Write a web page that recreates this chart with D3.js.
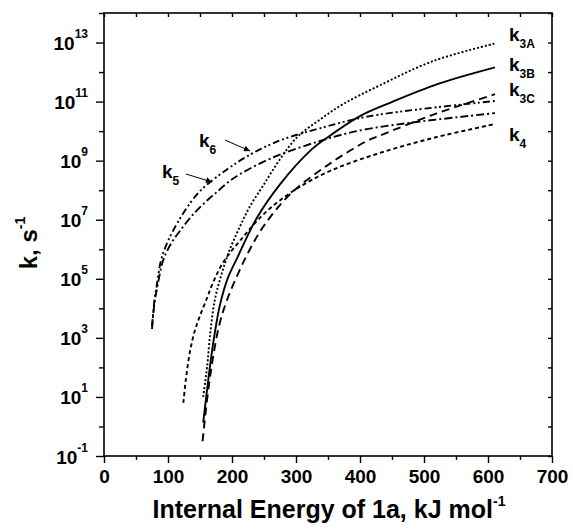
<!DOCTYPE html>
<html>
<head>
<meta charset="utf-8">
<title>k vs internal energy</title>
<script src="https://cdn.jsdelivr.net/npm/d3@7"></script>
<style>
  body { margin: 0; background: #fff; }
  text { font-family: "Liberation Sans", Arial, sans-serif; font-weight: bold; fill: #000; }
</style>
</head>
<body>
<div id="chart"></div>
<script>
// data: internal energy (kJ/mol) and log10 k (s^-1)
var eK3A = [155, 158, 161, 166, 173, 184, 196, 212, 228, 250, 275, 302, 338, 374, 431, 514, 611];
var lgK3A = [1.0, 1.5, 2.0, 3.15, 4.27, 5.18, 5.96, 6.75, 7.45, 8.2, 9.05, 9.8, 10.4, 10.92, 11.55, 12.37, 12.97];

var eK3B = [155, 166, 173, 181, 193, 208, 239, 275, 322, 348, 400, 447, 522, 611];
var lgK3B = [0.13, 2.1, 3.15, 4.1, 5.0, 5.7, 7.07, 8.2, 9.33, 9.77, 10.51, 10.96, 11.6, 12.16];

var eK3C = [154, 161, 169, 180, 192, 210, 228, 250, 291, 353, 411, 431, 520, 611];
var lgK3C = [-0.5, 0.9, 2.15, 3.43, 4.27, 5.2, 6.0, 6.8, 7.87, 8.9, 9.67, 9.85, 10.6, 11.25];

var eK4 = [124, 128, 134, 142, 150, 161, 168, 186, 213, 250, 296, 353, 431, 520, 611];
var lgK4 = [0.8, 1.6, 2.5, 3.25, 3.75, 4.35, 4.75, 5.55, 6.3, 7.2, 7.98, 8.65, 9.26, 9.8, 10.24];

var eK5 = [75, 79, 84, 92, 105, 119, 140, 161, 177, 197, 213, 260, 338, 411, 611];
var lgK5 = [3.3, 4.2, 4.8, 5.6, 6.2, 6.63, 7.2, 7.65, 7.95, 8.32, 8.55, 9.07, 9.67, 10.07, 10.61];

var eK6 = [75, 79, 83, 90, 108, 147, 192, 228, 260, 286, 338, 416, 611];
var lgK6 = [3.4, 4.3, 4.85, 5.7, 6.63, 7.9, 8.7, 9.2, 9.55, 9.77, 10.1, 10.51, 11.02];

var xMajor = [0, 100, 200, 300, 400, 500, 600, 700];
var yExpMajor = [-1, 1, 3, 5, 7, 9, 11, 13];

var w = 573, h = 530;
var padL = 104, padR = 552, padT = 13, padB = 456;

var svg = d3.select("#chart").append("svg")
  .attr("width", w).attr("height", h);

var x = d3.scaleLinear().domain([0, 700]).range([padL, padR]);
var y = d3.scaleLog().domain([1e-1, 1e14]).range([padB, padT]);

// minor tick values
var xMinor = d3.range(50, 700, 100);
var yMinor = d3.range(0, 15, 2).map(function(e){ return Math.pow(10, e); });
var yAll = d3.range(-1, 15).map(function(e){ return Math.pow(10, e); });
var xAll = d3.range(0, 701, 50);

function styleAxis(g) {
  g.select(".domain").remove();
  g.selectAll("line").attr("stroke", "#000").attr("stroke-width", 1.4);
}

// bottom axis (outward ticks)
svg.append("g").attr("transform", "translate(0," + padB + ")")
  .call(d3.axisBottom(x).tickValues(xMajor).tickSize(7).tickFormat(d3.format("d")))
  .call(styleAxis)
  .call(function(g){
    g.selectAll("text").attr("font-size", 19).attr("dy", null).attr("y", 27)
      .attr("font-family", "Liberation Sans, Arial, sans-serif").attr("font-weight", "bold");
  });
svg.append("g").attr("transform", "translate(0," + padB + ")")
  .call(d3.axisBottom(x).tickValues(xMinor).tickSize(4).tickFormat(""))
  .call(styleAxis);

// top axis (inward ticks)
svg.append("g").attr("transform", "translate(0," + padT + ")")
  .call(d3.axisTop(x).tickValues(xAll).tickSize(-4).tickFormat(""))
  .call(styleAxis);

// left axis
svg.append("g").attr("transform", "translate(" + padL + ",0)")
  .call(d3.axisLeft(y).tickValues(yExpMajor.map(function(e){ return Math.pow(10, e); })).tickSize(8).tickFormat(""))
  .call(styleAxis);
svg.append("g").attr("transform", "translate(" + padL + ",0)")
  .call(d3.axisLeft(y).tickValues(yMinor).tickSize(5).tickFormat(""))
  .call(styleAxis);

// right axis (inward ticks)
svg.append("g").attr("transform", "translate(" + padR + ",0)")
  .call(d3.axisRight(y).tickValues(yAll).tickSize(-4).tickFormat(""))
  .call(styleAxis);

// y tick labels as 10 with superscript
var yLab = svg.selectAll(".ylab").data(yExpMajor).enter().append("text")
  .attr("class", "ylab")
  .attr("text-anchor", "end")
  .attr("x", 88)
  .attr("y", function(d){ return y(Math.pow(10, d)) + 7.5; })
  .attr("font-size", 19);
yLab.append("tspan").text("10");
yLab.append("tspan").attr("font-size", 12).attr("dy", -12).text(function(d){ return d; });

// frame
svg.append("rect")
  .attr("x", padL).attr("y", padT)
  .attr("width", padR - padL).attr("height", padB - padT)
  .attr("fill", "none").attr("stroke", "#000").attr("stroke-width", 1.6);

// curves
var series = [
  { e: eK3A, lg: lgK3A, dash: "2,2" },
  { e: eK3B, lg: lgK3B, dash: null },
  { e: eK3C, lg: lgK3C, dash: "8,5" },
  { e: eK4,  lg: lgK4,  dash: "4,3" },
  { e: eK5,  lg: lgK5,  dash: "8,3,2,3" },
  { e: eK6,  lg: lgK6,  dash: "7,3,2,2.5,2,3" }
];

var line = d3.line()
  .x(function(d){ return x(d[0]); })
  .y(function(d){ return y(Math.pow(10, d[1])); })
  .curve(d3.curveCatmullRom.alpha(0.5));

series.forEach(function(s){
  var pts = s.e.map(function(v, i){ return [v, s.lg[i]]; });
  svg.append("path")
    .attr("d", line(pts))
    .attr("fill", "none")
    .attr("stroke", "#000")
    .attr("stroke-width", 1.9)
    .attr("stroke-dasharray", s.dash);
});

// curve labels
var labels = [
  { name: "3A", x: 509, y: 41 },
  { name: "3B", x: 509, y: 71 },
  { name: "3C", x: 509, y: 96 },
  { name: "4",  x: 509, y: 141 },
  { name: "6",  x: 199, y: 147 },
  { name: "5",  x: 162, y: 178 }
];
labels.forEach(function(l){
  var t = svg.append("text").attr("x", l.x).attr("y", l.y).attr("font-size", 19);
  t.append("tspan").text("k");
  t.append("tspan").attr("font-size", 12).attr("dy", 7).text(l.name);
});

// arrows for k5, k6
svg.append("defs").append("marker")
  .attr("id", "arr").attr("viewBox", "0 0 10 10")
  .attr("refX", 10).attr("refY", 5)
  .attr("markerWidth", 8).attr("markerHeight", 6)
  .attr("orient", "auto").attr("markerUnits", "userSpaceOnUse")
  .append("path").attr("d", "M0,0L10,5L0,10Z").attr("fill", "#000");

var arrows = [
  { x1: 225, y1: 140, x2: 250, y2: 151 },
  { x1: 186, y1: 174, x2: 212, y2: 182 }
];
arrows.forEach(function(a){
  svg.append("line")
    .attr("x1", a.x1).attr("y1", a.y1).attr("x2", a.x2).attr("y2", a.y2)
    .attr("stroke", "#000").attr("stroke-width", 1)
    .attr("marker-end", "url(#arr)");
});

// axis titles
var xt = svg.append("text")
  .attr("x", 329).attr("y", 518)
  .attr("text-anchor", "middle").attr("font-size", 25);
xt.append("tspan").text("Internal Energy of 1a, kJ mol");
xt.append("tspan").attr("font-size", 14).attr("dy", -12).text("-1");

var yt = svg.append("text")
  .attr("transform", "translate(37,243) rotate(-90)")
  .attr("text-anchor", "middle").attr("font-size", 24);
yt.append("tspan").text("k, s");
yt.append("tspan").attr("font-size", 14).attr("dy", -12).text("-1");
</script>
</body>
</html>
